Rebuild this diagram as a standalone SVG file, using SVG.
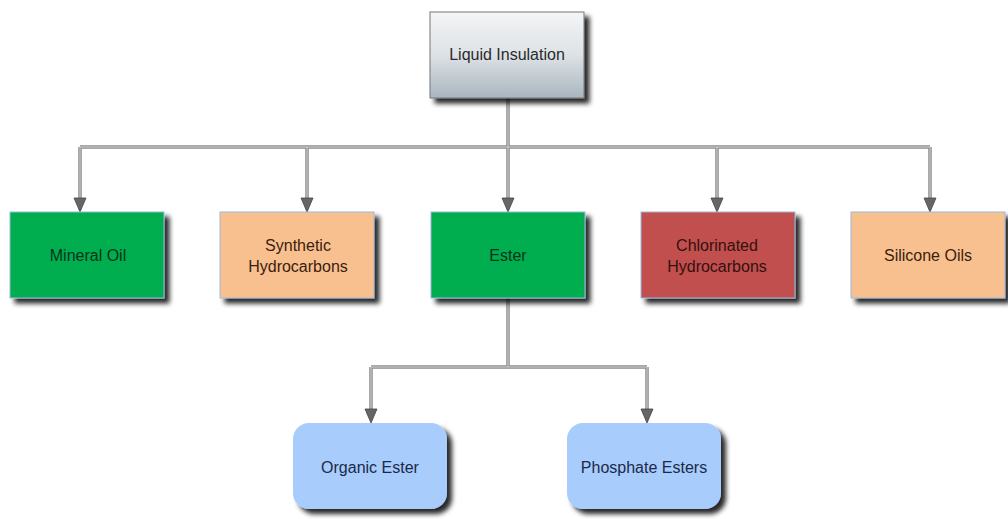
<svg xmlns="http://www.w3.org/2000/svg" width="1008" height="519" viewBox="0 0 1008 519">
<defs>
<linearGradient id="gTop" x1="0" y1="0" x2="0" y2="1">
<stop offset="0" stop-color="#f4f5f6"/>
<stop offset="0.5" stop-color="#dde2e6"/>
<stop offset="1" stop-color="#a9b6bf"/>
</linearGradient>
<filter id="sh" x="-10%" y="-10%" width="130%" height="140%">
<feGaussianBlur in="SourceAlpha" stdDeviation="2.5"/>
<feOffset dx="5" dy="5" result="b"/>
<feComponentTransfer><feFuncA type="linear" slope="0.85"/></feComponentTransfer>
<feMerge><feMergeNode/><feMergeNode in="SourceGraphic"/></feMerge>
</filter>
<path id="arr" d="M-6,-14 L6,-14 L0,0 Z" fill="#666" stroke="#444" stroke-width="0.8"/>
</defs>
<style>
.c{fill:none;stroke:#8c8c8c;stroke-width:3.5}
.ci{fill:none;stroke:#d4d4d4;stroke-width:1}
.t{font-family:"Liberation Sans",Arial,sans-serif;font-size:16px;text-anchor:middle}
.box{stroke:#9db8dc;stroke-width:1}
</style>
<rect width="1008" height="519" fill="#fff"/>
<g id="connectors">
<path class="c" d="M508,98 V147 M80,147 H930 M508,298 V367 M371,367 H647 M80,147 V199 M307,147 V199 M508,147 V199 M717,147 V199 M930,147 V199 M371,367 V410 M647,367 V410"/>
<path class="ci" d="M80,199 V147 H930 V199 M307,147 V199 M717,147 V199 M508,98 V199 M371,410 V367 H647 V410 M508,298 V367"/>
<use href="#arr" x="80" y="212"/>
<use href="#arr" x="307" y="212"/>
<use href="#arr" x="508" y="212"/>
<use href="#arr" x="717" y="212"/>
<use href="#arr" x="930" y="212"/>
<use href="#arr" x="371" y="423"/>
<use href="#arr" x="647" y="423"/>
</g>
<g id="liquid-insulation">
<rect x="430" y="12" width="154" height="86" fill="url(#gTop)" stroke="#777" stroke-width="1" filter="url(#sh)"/>
<text class="t" x="507" y="60" fill="#2a2a2a">Liquid Insulation</text>
</g>
<g id="mineral-oil">
<rect class="box" x="10" y="212" width="154" height="86" fill="#00ad50" filter="url(#sh)"/>
<text class="t" x="88" y="261" fill="#083519">Mineral Oil</text>
</g>
<g id="synthetic-hydrocarbons">
<rect class="box" x="220" y="212" width="154" height="86" fill="#f9c08f" filter="url(#sh)"/>
<text class="t" x="298" y="251" fill="#3a200e">Synthetic</text>
<text class="t" x="298" y="272" fill="#3a200e">Hydrocarbons</text>
</g>
<g id="ester">
<rect class="box" x="431" y="212" width="154" height="86" fill="#00ad50" filter="url(#sh)"/>
<text class="t" x="508" y="261" fill="#083519">Ester</text>
</g>
<g id="chlorinated-hydrocarbons">
<rect class="box" x="641" y="212" width="154" height="86" fill="#c0504d" filter="url(#sh)"/>
<text class="t" x="717" y="251" fill="#351010">Chlorinated</text>
<text class="t" x="717" y="272" fill="#351010">Hydrocarbons</text>
</g>
<g id="silicone-oils">
<rect class="box" x="851" y="212" width="154" height="86" fill="#f9c08f" filter="url(#sh)"/>
<text class="t" x="928" y="261" fill="#3a200e">Silicone Oils</text>
</g>
<g id="organic-ester">
<rect x="293" y="423" width="154" height="86" rx="16" fill="#a8ccfc" filter="url(#sh)"/>
<text class="t" x="370" y="473" fill="#1a2a48">Organic Ester</text>
</g>
<g id="phosphate-esters">
<rect x="567" y="423" width="154" height="86" rx="16" fill="#a8ccfc" filter="url(#sh)"/>
<text class="t" x="644" y="473" fill="#1a2a48">Phosphate Esters</text>
</g>
</svg>
